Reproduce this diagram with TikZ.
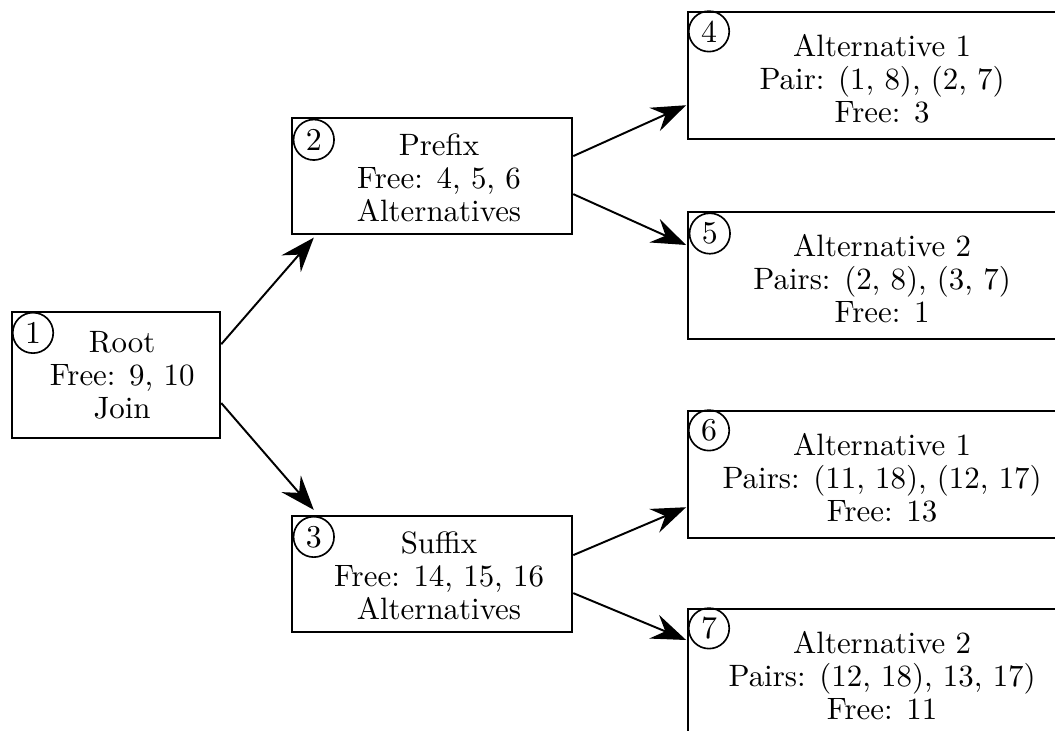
\documentclass[tikz,border=0pt]{standalone}
\usetikzlibrary{arrows.meta}
\begin{document}
\begin{tikzpicture}[x=0.33333pt,y=-0.33333pt,
  box/.style={draw, line width=0.75pt, inner sep=0pt, anchor=north west},
  num/.style={draw, circle, line width=0.55pt, minimum size=13.5pt, inner sep=0pt, font=\fontsize{10.6}{11}\selectfont},
  lbl/.style={align=center, inner sep=0pt, font=\fontsize{10.3}{11}\selectfont},
  conn/.style={-{Stealth[length=11.5pt,width=8.5pt,inset=4pt]}, line width=0.65pt}]
\useasboundingbox (0,0) rectangle (1055,731);
\clip (0,0) rectangle (1055,731);
% boxes
\node[box, minimum width=208pt/3, minimum height=126pt/3] (b1) at (11,311) {};
\node[box, minimum width=280pt/3, minimum height=116pt/3] (b2) at (291,117) {};
\node[box, minimum width=280pt/3, minimum height=116pt/3] (b3) at (291,515) {};
\node[box, minimum width=374pt/3, minimum height=127pt/3] (b4) at (687,11) {};
\node[box, minimum width=374pt/3, minimum height=127pt/3] (b5) at (687,211) {};
\node[box, minimum width=374pt/3, minimum height=127pt/3] (b6) at (687,410) {};
\node[box, minimum width=374pt/3, minimum height=127pt/3] (b7) at (687,608) {};
% texts
\node[lbl] (t1) at ([xshift=2pt]b1.center) {Root\\Free: 9, 10\\Join};
\node[lbl] (t2) at ([xshift=2.3pt,yshift=-0.5pt]b2.center) {Prefix\\Free: 4, 5, 6\\Alternatives};
\node[lbl] (t3) at ([xshift=2.3pt,yshift=-0.5pt]b3.center) {Suffix\\Free: 14, 15, 16\\Alternatives};
\node[lbl] (t4) at ([xshift=2.33pt,yshift=-1.1pt]b4.center) {Alternative 1\\Pair: (1, 8), (2, 7)\\Free: 3};
\node[lbl] (t5) at ([xshift=2.33pt,yshift=-1.1pt]b5.center) {Alternative 2\\Pairs: (2, 8), (3, 7)\\Free: 1};
\node[lbl] (t6) at ([xshift=2.33pt,yshift=-1.1pt]b6.center) {Alternative 1\\Pairs: (11, 18), (12, 17)\\Free: 13};
\node[lbl] (t7) at ([xshift=2.33pt,yshift=-1.1pt]b7.center) {Alternative 2\\Pairs: (12, 18), 13, 17)\\Free: 11};
% circled numbers
\node[num] (c1) at ([xshift=7.33pt,yshift=-7.3pt]b1.north west) {1};
\node[num] (c2) at ([xshift=7.6pt,yshift=-7.6pt]b2.north west) {2};
\node[num] (c3) at ([xshift=7.6pt,yshift=-7.3pt]b3.north west) {3};
\node[num] (c4) at ([xshift=7.33pt,yshift=-6.8pt]b4.north west) {4};
\node[num] (c5) at ([xshift=7.6pt,yshift=-7.5pt]b5.north west) {5};
\node[num] (c6) at ([xshift=7.33pt,yshift=-6.8pt]b6.north west) {6};
\node[num] (c7) at ([xshift=7.33pt,yshift=-6.8pt]b7.north west) {7};
% connectors
\draw[conn] ([yshift=10.3pt]b1.east) -- ([xshift=7.6pt,yshift=-0.8pt]b2.south west);
\draw[conn] ([yshift=-9.3pt]b1.east) -- ([xshift=7.6pt,yshift=1.7pt]b3.north west);
\draw[conn] ([yshift=6.67pt]b2.east) -- ([xshift=-0.3pt,yshift=11.67pt]b4.south west);
\draw[conn] ([yshift=-6pt]b2.east) -- ([xshift=-0.3pt,yshift=-11.33pt]b5.north west);
\draw[conn] ([yshift=6.33pt]b3.east) -- ([xshift=-0.3pt,yshift=10.67pt]b6.south west);
\draw[conn] ([yshift=-6.33pt]b3.east) -- ([xshift=-0.3pt,yshift=-10.67pt]b7.north west);
\end{tikzpicture}
\end{document}
